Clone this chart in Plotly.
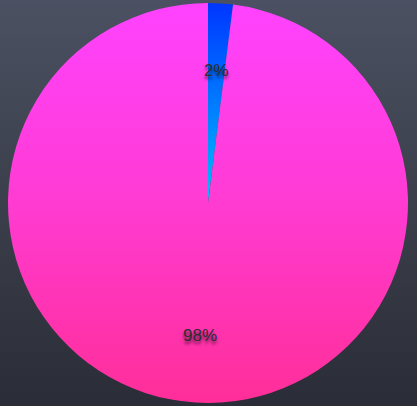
import numpy as np
import plotly.graph_objects as go

labels = ["A", "B"]
values = [2, 98]
colors = ["#0a7cff", "#ff3bd0"]

fig = go.Figure(go.Pie(
    labels=labels,
    values=values,
    sort=False,
    direction="clockwise",
    rotation=0,
    marker=dict(colors=colors, line=dict(width=0)),
    textinfo="none",
    showlegend=False,
    hoverinfo="label+percent",
))

W, H = 417, 406
ml, mr, mt, mb = 8, 9, 2, 2
pw, ph = W - ml - mr, H - mt - mb
R = min(pw, ph) / 2
frac = 0.665
total = sum(values)
cum = 0
annotations = []
for v in values:
    mid = (cum + v / 2) / total * 2 * np.pi
    cum += v
    dx = frac * R * np.sin(mid) / pw
    dy = frac * R * np.cos(mid) / ph
    annotations.append(dict(
        x=0.5 + dx, y=0.5 + dy, xref="paper", yref="paper",
        text=f"{round(v / total * 100)}%", showarrow=False,
        xanchor="center", yanchor="middle",
        font=dict(family="Liberation Sans, Arial", size=17, color="#2e2e2e",
                  shadow="0px 3px 3px rgba(0,0,0,0.6)"),
    ))

fig.update_layout(
    width=W, height=H,
    margin=dict(l=ml, r=mr, t=mt, b=mb),
    paper_bgcolor="rgba(0,0,0,0)",
    plot_bgcolor="rgba(0,0,0,0)",
    showlegend=False,
    annotations=annotations,
)

post = """
(function(){
  document.documentElement.style.background = '#3b3f4a';
  document.body.style.margin = '0';
  document.body.style.background = 'linear-gradient(180deg, #4b5162 0%, #3b3f4b 50%, #2a2d37 100%)';
  document.body.style.minHeight = '406px';
  var gd = document.querySelector('.plotly-graph-div');
  function apply(){
    var svg = gd.querySelector('svg.main-svg');
    if(!svg) return;
    var ns = 'http://www.w3.org/2000/svg';
    var defs = svg.querySelector('defs');
    if(!defs){ defs = document.createElementNS(ns,'defs'); svg.insertBefore(defs, svg.firstChild); }
    function grad(id, stops){
      if(document.getElementById(id)) return;
      var g = document.createElementNS(ns,'linearGradient');
      g.setAttribute('id', id);
      g.setAttribute('x1','0'); g.setAttribute('y1','0');
      g.setAttribute('x2','0'); g.setAttribute('y2','1');
      stops.forEach(function(s){
        var st = document.createElementNS(ns,'stop');
        st.setAttribute('offset', s[0]); st.setAttribute('stop-color', s[1]);
        g.appendChild(st);
      });
      defs.appendChild(g);
    }
    grad('gBlue', [['0','#0036ff'],['1','#00c0ff']]);
    grad('gPink', [['0','#ff42ff'],['0.5','#ff3bd2'],['1','#ff2e98']]);
    var paths = gd.querySelectorAll('g.slice path.surface');
    if(paths[0]) paths[0].style.fill = 'url(#gBlue)';
    if(paths[1]) paths[1].style.fill = 'url(#gPink)';
  }
  apply();
  gd.on && gd.on('plotly_afterplot', apply);
})();
"""

fig.write_html("out.html", post_script=post)
